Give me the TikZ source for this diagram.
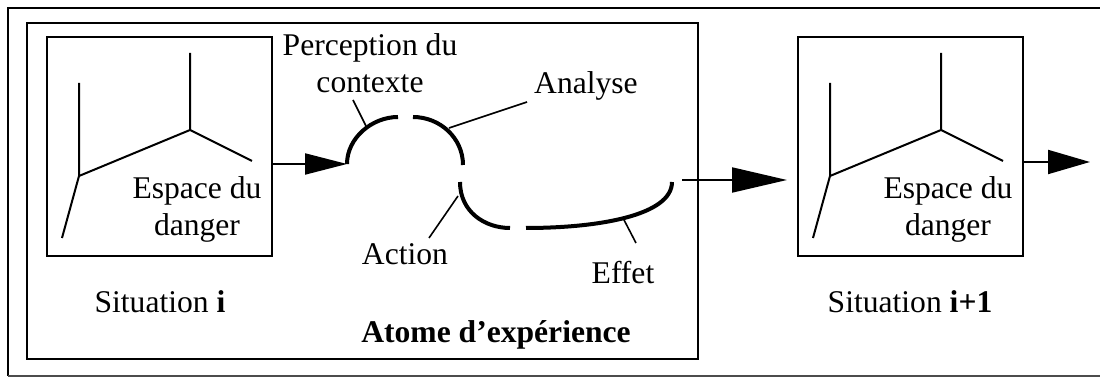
\documentclass[tikz,border=0pt]{standalone}
\usepackage{fontspec}
\setmainfont{Liberation Serif}
\usetikzlibrary{arrows.meta}

\begin{document}
\begin{tikzpicture}[x=0.5pt,y=-0.5pt,
lbl/.style = {
	font=\fontsize{15.8}{18.5}\selectfont,
	align=center,
	inner sep=0pt
	},
sitBox/.style = {
	draw,
	line width=1pt,
	minimum width=112.5pt,
	minimum height=109.5pt,
	inner sep=0pt,
	outer sep=0pt
	},
atomBox/.style = {
	draw,
	line width=1pt,
	minimum width=335.5pt,
	minimum height=168pt,
	inner sep=0pt,
	outer sep=0pt
	},
dangerLine/.style = {
	line width=1pt
	},
cyc/.style = {
	line width=2pt
	},
lead/.style = {
	line width=0.8pt
	},
stepArr/.style = {
	-{Triangle[length=21pt,width=10.5pt]},
	line width=1pt
	},
bigArr/.style = {
	-{Triangle[length=27.5pt,width=12.5pt]},
	line width=1pt
	}
]
\useasboundingbox (0,0) rectangle (1100,378);

% FRAME
\draw [line width=1pt] (1100,8) -- (8,8) -- (8,376);
\draw [line width=0.8pt, black!70] (8,376) -- (1100,376);

% BOXES
\node [atomBox] (atom) at (362.5,191) {};
\node [sitBox] (sitA) at (159.5,146.5) {};
\node [sitBox] (sitB) at (910.5,146.5) {};

% DANGER SPACES
\foreach \sit in {sitA,sitB} {
	\begin{scope}[shift={(\sit.north west)}]
	\draw [dangerLine] (32,46) -- (32,139) -- (15,201);
	\draw [dangerLine] (32,139) -- (143,93) -- (143,16);
	\draw [dangerLine] (143,93) -- (205,124);
	\node [lbl] (\sit-txt) at (150,172) {Espace du\\danger};
	\end{scope}
}

% LABELS
\node [lbl, anchor=base] (sitAlab) at (160,313) {Situation \textbf{i}};
\node [lbl, anchor=base] (sitBlab) at (910,313) {Situation \textbf{i+1}};
\node [lbl, anchor=base] (atomLab) at (496,343) {\textbf{Atome d’expérience}};
\node [lbl] (percLab) at (370,63) {Perception du\\contexte};
\node [lbl] (anaLab) at (586,86) {Analyse};
\node [lbl] (actLab) at (405,254) {Action};
\node [lbl] (effLab) at (623,273) {Effet};

% CYCLE
\coordinate (cycIn) at (347,164);
\coordinate (cycOut) at (682,180);
\draw [cyc] (cycIn) .. controls (347,138) and (372,117) .. (398,117);
\draw [cyc] (413,117) .. controls (440,117) and (463,138) .. (463,165);
\draw [cyc] (460,182) .. controls (460,212) and (485,228) .. (510,228);
\draw [cyc] (526,228) .. controls (600,228) and (672,215) .. (672,182);

% LEADERS
\coordinate (percPt) at (366,126);
\coordinate (percEnd) at (353,100);
\coordinate (anaPt) at (449,128);
\coordinate (anaEnd) at (527,102);
\coordinate (actPt) at (458,196);
\coordinate (actEnd) at (429,238);
\coordinate (effPt) at (623,218);
\coordinate (effEnd) at (636,243);
\path [lead] (percEnd) edge (percPt) (anaEnd) edge (anaPt) (actEnd) edge (actPt) (effEnd) edge (effPt);

% ARROWS
\coordinate (sitBin) at (787,180);
\coordinate (nextSit) at (1090,162);
\draw [stepArr] (sitA.east |- cycIn) -- (cycIn);
\draw [bigArr] (cycOut) -- (sitBin);
\draw [stepArr, -{Triangle[length=21pt,width=12pt]}] (sitB.east |- nextSit) -- (nextSit);
\end{tikzpicture}
\end{document}
